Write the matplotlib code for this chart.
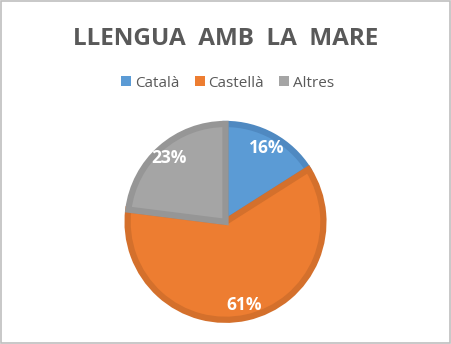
import matplotlib.pyplot as plt
from matplotlib.patches import Rectangle
import numpy as np

# data
labels = ['Català', 'Castellà', 'Altres']
values = [16, 61, 23]
colors = ['#5B9BD5', '#ED7D31', '#A5A5A5']
edge_colors = ['#4F89C1', '#D4702C', '#969696']

plt.rcParams['font.family'] = ['Open Sans', 'DejaVu Sans']

fig = plt.figure(figsize=(4.51, 3.44), dpi=100)

# outer frame
fig.patches.append(Rectangle((0.002, 0.003), 0.995, 0.993, transform=fig.transFigure,
                             fill=False, edgecolor='#BFBFBF', linewidth=1.2))

fig.text(0.5, 0.888, 'LLENGUA  AMB  LA  MARE', ha='center', va='center', fontsize=17.5,
         fontweight='bold', color='#595959')

ax = fig.add_axes([0.265, 0.045, 0.47, 0.62])
wedges, texts = ax.pie(values, colors=colors, startangle=90, counterclock=False,
                       radius=0.97)
for w, ec in zip(wedges, edge_colors):
    w.set_edgecolor(ec)
    w.set_linewidth(4.5)
    w.set_joinstyle('miter')

for w, v in zip(wedges, values):
    ang = np.deg2rad((w.theta1 + w.theta2) / 2)
    ax.text(0.84 * np.cos(ang), 0.84 * np.sin(ang), f'{v}%', ha='center', va='center',
            color='white', fontsize=12.5, fontweight='bold')
ax.set_xlim(-1.05, 1.05)
ax.set_ylim(-1.05, 1.05)
ax.set_aspect('equal')

# legend
handles = [Rectangle((0, 0), 1, 1, facecolor=c) for c in colors]
fig.legend(handles, labels, loc='center', bbox_to_anchor=(0.505, 0.758), ncol=3,
           frameon=False, fontsize=11, handlelength=0.65, handleheight=0.65,
           handletextpad=0.25, columnspacing=1.0, labelcolor='#595959')

fig.savefig('out.png', dpi=100)
